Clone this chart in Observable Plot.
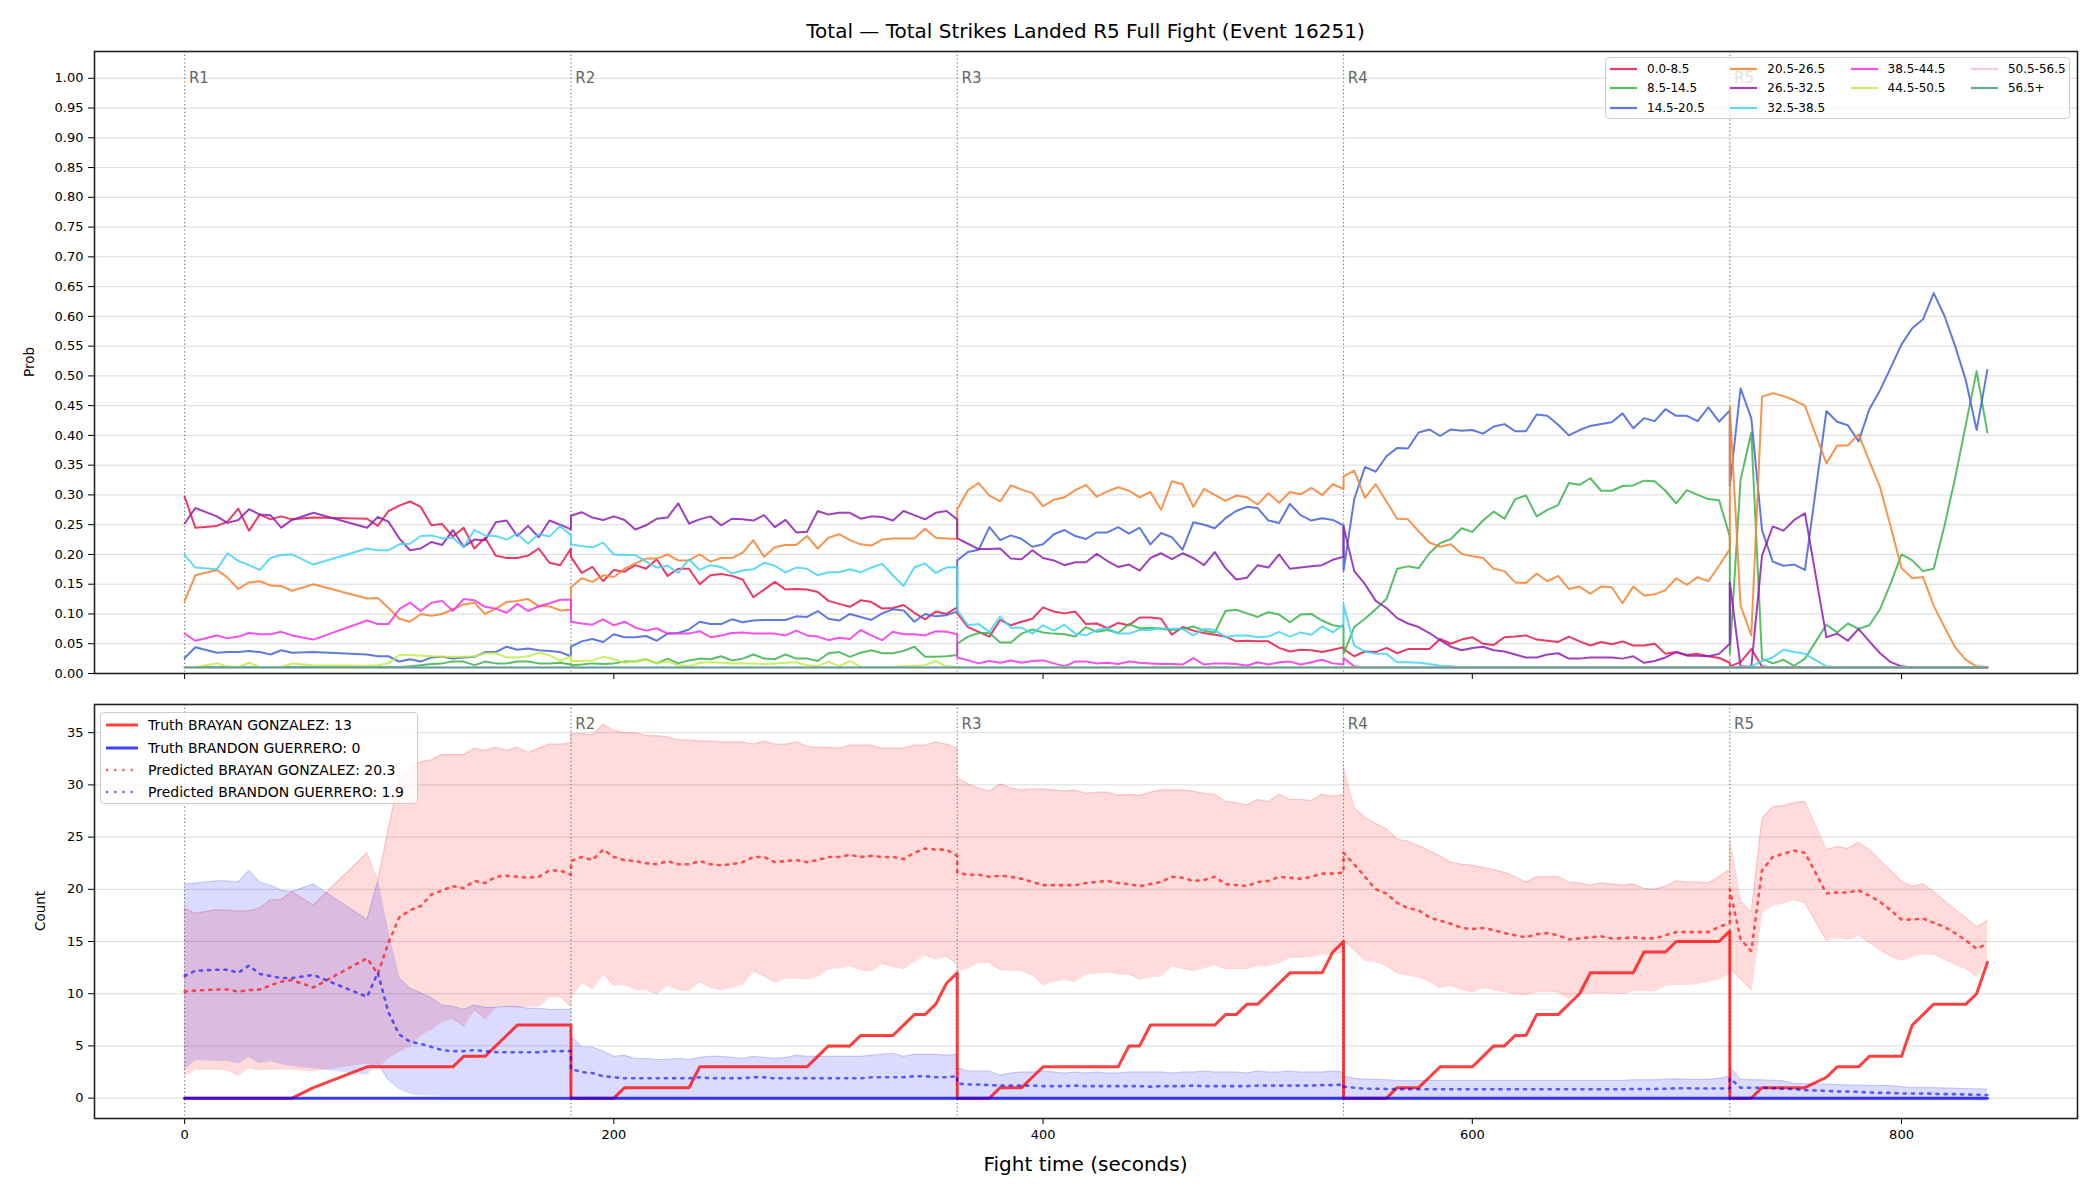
<!DOCTYPE html>
<html><head><meta charset="utf-8">
<script src="https://cdn.jsdelivr.net/npm/d3@7"></script>
<script src="https://cdn.jsdelivr.net/npm/@observablehq/plot@0.6"></script>
<style>
body{margin:0;background:#fff;font-family:"DejaVu Sans",sans-serif;}
#root{position:relative;width:2100px;height:1200px;overflow:hidden;background:#fff;}
.abs{position:absolute;}
.lg{position:absolute;border:1px solid #cccccc;border-radius:4px;background:rgba(255,255,255,0.8);box-sizing:border-box;}
.it{position:absolute;white-space:nowrap;color:#000;}
.it svg{position:absolute;left:0;top:0;}
.it span{position:absolute;top:0;}
</style></head><body><div id="root"></div>
<script>
// ---------------- DATA ----------------
const titleText = "Total \u2014 Total Strikes Landed R5 Full Fight (Event 16251)";
const xLabel = "Fight time (seconds)";
const roundStarts = [0, 180, 360, 540, 720];
const roundLabels = ["R1", "R2", "R3", "R4", "R5"];
const xTicks = [0, 200, 400, 600, 800];
const yTicksTop = [0,0.05,0.1,0.15,0.2,0.25,0.3,0.35,0.4,0.45,0.5,0.55,0.6,0.65,0.7,0.75,0.8,0.85,0.9,0.95,1.0];
const yTicksBottom = [0,5,10,15,20,25,30,35];

const tR1 = [0,5,15,20,25,30,35,40,45,50,60,85,90,95,100,105,110,115,120,125,130,135,140,145,150,155,160,165,170,175,180];
const tR2 = [180,185,190,195,200,205,210,215,220,225,230,235,240,245,250,255,260,265,270,275,280,285,290,295,300,305,310,315,320,325,330,335,340,345,350,355,360];
const tR3 = [360,365,370,375,380,385,390,395,400,405,410,415,420,425,430,435,440,445,450,455,460,465,470,475,480,485,490,495,500,505,510,515,520,525,530,535,540];
const tR4 = [540,545,550,555,560,565,570,575,580,585,590,595,600,605,610,615,620,625,630,635,640,645,650,655,660,665,670,675,680,685,690,695,700,705,710,715,720];
const tR5 = [720,725,730,735,740,745,750,755,765,770,775,780,785,790,795,800,805,810,815,820,825,830,835,840];

const binLabels = ["0.0-8.5","8.5-14.5","14.5-20.5","20.5-26.5","26.5-32.5","32.5-38.5","38.5-44.5","44.5-50.5","50.5-56.5","56.5+"];
const binColors = ["#e6194b","#3cb44b","#4363d8","#f58231","#911eb4","#42d4f4","#f032e6","#bfef45","#fabed4","#469990"];

const p0 = [
0.297,0.245,0.248,0.255,0.277,0.240,0.267,0.259,0.264,0.259,0.262,0.260,0.248,0.273,0.282,0.289,0.280,0.249,0.251,0.230,0.245,0.210,0.228,0.198,0.194,0.194,0.198,0.210,0.186,0.182,0.210,
0.196,0.169,0.179,0.155,0.174,0.171,0.182,0.176,0.192,0.164,0.176,0.176,0.150,0.165,0.167,0.164,0.158,0.128,0.141,0.154,0.141,0.142,0.141,0.137,0.122,0.117,0.112,0.123,0.120,0.109,0.110,0.115,0.102,0.091,0.104,0.100,0.111,
0.101,0.078,0.070,0.062,0.090,0.081,0.087,0.092,0.111,0.104,0.101,0.104,0.083,0.084,0.076,0.085,0.081,0.094,0.094,0.092,0.065,0.078,0.072,0.068,0.065,0.062,0.054,0.055,0.054,0.054,0.043,0.037,0.040,0.039,0.036,0.040,0.044,
0.041,0.029,0.037,0.036,0.043,0.034,0.041,0.041,0.041,0.058,0.050,0.057,0.061,0.050,0.048,0.061,0.062,0.064,0.057,0.055,0.053,0.062,0.054,0.047,0.053,0.049,0.054,0.047,0.047,0.050,0.033,0.036,0.031,0.033,0.029,0.026,0.018,
0.012,0.019,0.041,0.012,0.010,0.010,0.010,0.010,0.010,0.010,0.010,0.010,0.010,0.010,0.010,0.010,0.010,0.010,0.010,0.010,0.010,0.010,0.010,0.010];
const p1 = [
0.011,0.011,0.011,0.011,0.011,0.011,0.011,0.011,0.011,0.011,0.011,0.011,0.011,0.011,0.011,0.012,0.014,0.016,0.017,0.020,0.020,0.014,0.020,0.017,0.017,0.020,0.020,0.017,0.017,0.018,0.015,
0.014,0.015,0.017,0.016,0.017,0.020,0.020,0.024,0.017,0.025,0.017,0.022,0.025,0.024,0.029,0.022,0.025,0.032,0.025,0.024,0.032,0.025,0.025,0.021,0.034,0.036,0.028,0.035,0.039,0.034,0.034,0.038,0.045,0.028,0.028,0.029,0.031,
0.050,0.062,0.068,0.068,0.052,0.052,0.067,0.074,0.069,0.067,0.066,0.062,0.078,0.070,0.073,0.068,0.083,0.076,0.077,0.075,0.073,0.075,0.079,0.072,0.069,0.105,0.107,0.101,0.095,0.103,0.099,0.086,0.099,0.100,0.089,0.081,0.078,
0.033,0.078,0.092,0.108,0.125,0.176,0.180,0.177,0.202,0.219,0.226,0.244,0.238,0.257,0.272,0.260,0.293,0.299,0.264,0.275,0.283,0.320,0.317,0.328,0.307,0.307,0.315,0.316,0.324,0.323,0.307,0.286,0.308,0.300,0.293,0.291,0.230,
0.033,0.325,0.405,0.025,0.017,0.023,0.013,0.025,0.082,0.069,0.084,0.075,0.081,0.108,0.152,0.200,0.190,0.172,0.176,0.248,0.329,0.419,0.508,0.405];
const p2 = [
0.026,0.044,0.035,0.036,0.036,0.038,0.036,0.032,0.039,0.035,0.036,0.032,0.029,0.029,0.020,0.024,0.020,0.027,0.028,0.025,0.027,0.028,0.036,0.036,0.045,0.040,0.042,0.039,0.038,0.036,0.029,
0.045,0.054,0.058,0.053,0.066,0.061,0.061,0.063,0.055,0.067,0.068,0.074,0.087,0.083,0.083,0.091,0.086,0.089,0.090,0.090,0.090,0.096,0.095,0.105,0.092,0.089,0.100,0.095,0.090,0.101,0.108,0.106,0.087,0.100,0.096,0.098,0.104,
0.190,0.204,0.208,0.246,0.224,0.232,0.226,0.213,0.217,0.234,0.241,0.231,0.226,0.237,0.237,0.246,0.235,0.245,0.217,0.236,0.229,0.208,0.254,0.250,0.244,0.261,0.273,0.280,0.278,0.257,0.253,0.285,0.266,0.257,0.261,0.258,0.249,
0.173,0.293,0.347,0.339,0.365,0.379,0.378,0.405,0.410,0.399,0.410,0.408,0.409,0.403,0.415,0.419,0.407,0.407,0.435,0.433,0.418,0.400,0.409,0.416,0.419,0.422,0.437,0.412,0.429,0.424,0.444,0.433,0.433,0.424,0.447,0.423,0.442,
0.315,0.479,0.429,0.241,0.188,0.181,0.183,0.174,0.441,0.423,0.417,0.390,0.444,0.476,0.514,0.553,0.580,0.595,0.639,0.601,0.550,0.492,0.409,0.510];
const p3 = [
0.122,0.165,0.174,0.161,0.142,0.153,0.155,0.148,0.147,0.139,0.150,0.126,0.127,0.110,0.092,0.087,0.100,0.097,0.100,0.108,0.116,0.119,0.100,0.109,0.120,0.122,0.125,0.113,0.113,0.106,0.107,
0.145,0.160,0.154,0.165,0.162,0.176,0.185,0.193,0.193,0.200,0.190,0.190,0.200,0.188,0.194,0.194,0.203,0.224,0.196,0.212,0.216,0.216,0.231,0.210,0.228,0.234,0.224,0.217,0.215,0.225,0.227,0.227,0.227,0.243,0.228,0.227,0.226,
0.276,0.308,0.320,0.299,0.289,0.316,0.309,0.303,0.281,0.292,0.296,0.308,0.317,0.297,0.306,0.313,0.307,0.296,0.305,0.275,0.323,0.318,0.280,0.310,0.300,0.290,0.299,0.296,0.284,0.303,0.287,0.305,0.301,0.312,0.300,0.318,0.310,
0.331,0.341,0.295,0.318,0.289,0.260,0.259,0.239,0.220,0.213,0.217,0.201,0.197,0.194,0.176,0.172,0.153,0.152,0.168,0.155,0.164,0.142,0.146,0.134,0.146,0.145,0.118,0.146,0.131,0.133,0.140,0.160,0.149,0.162,0.155,0.181,0.209,
0.448,0.114,0.064,0.465,0.471,0.466,0.459,0.450,0.353,0.383,0.383,0.402,0.357,0.313,0.246,0.177,0.160,0.162,0.114,0.078,0.044,0.023,0.012,0.011];
const p4 = [
0.252,0.278,0.264,0.253,0.258,0.276,0.267,0.266,0.245,0.258,0.270,0.245,0.263,0.255,0.227,0.207,0.210,0.221,0.216,0.241,0.213,0.225,0.224,0.254,0.257,0.231,0.248,0.229,0.257,0.250,0.242,
0.265,0.271,0.262,0.258,0.264,0.258,0.242,0.249,0.260,0.262,0.286,0.252,0.259,0.264,0.249,0.260,0.259,0.257,0.266,0.246,0.258,0.237,0.238,0.273,0.267,0.270,0.270,0.260,0.264,0.263,0.257,0.273,0.266,0.259,0.270,0.273,0.259,
0.227,0.218,0.209,0.209,0.210,0.193,0.192,0.207,0.194,0.190,0.182,0.187,0.187,0.201,0.189,0.179,0.183,0.173,0.194,0.202,0.192,0.202,0.194,0.182,0.204,0.177,0.158,0.161,0.182,0.178,0.200,0.176,0.178,0.180,0.182,0.191,0.196,
0.247,0.172,0.150,0.122,0.110,0.093,0.084,0.078,0.068,0.056,0.045,0.039,0.043,0.045,0.039,0.037,0.032,0.027,0.027,0.032,0.034,0.025,0.025,0.027,0.027,0.027,0.025,0.029,0.018,0.021,0.027,0.036,0.030,0.030,0.029,0.033,0.050,
0.153,0.012,0.011,0.198,0.247,0.240,0.258,0.269,0.061,0.067,0.055,0.075,0.054,0.034,0.019,0.012,0.010,0.010,0.010,0.010,0.010,0.010,0.010,0.010];
const p5 = [
0.199,0.178,0.175,0.202,0.189,0.182,0.174,0.194,0.199,0.200,0.183,0.210,0.207,0.207,0.217,0.218,0.231,0.232,0.227,0.228,0.212,0.241,0.232,0.231,0.225,0.235,0.218,0.234,0.230,0.248,0.232,
0.217,0.214,0.212,0.220,0.200,0.199,0.199,0.188,0.178,0.181,0.169,0.192,0.174,0.182,0.179,0.168,0.173,0.175,0.186,0.181,0.170,0.178,0.176,0.165,0.170,0.170,0.175,0.170,0.178,0.184,0.165,0.147,0.178,0.185,0.169,0.178,0.179,
0.106,0.081,0.083,0.070,0.096,0.077,0.077,0.067,0.081,0.072,0.082,0.067,0.064,0.073,0.076,0.067,0.067,0.073,0.073,0.076,0.075,0.075,0.064,0.075,0.073,0.061,0.064,0.064,0.061,0.062,0.070,0.062,0.069,0.065,0.079,0.069,0.083,
0.116,0.047,0.037,0.033,0.033,0.019,0.019,0.018,0.016,0.013,0.012,0.010,0.010,0.010,0.010,0.010,0.010,0.010,0.010,0.010,0.010,0.010,0.010,0.010,0.010,0.010,0.010,0.010,0.010,0.010,0.010,0.010,0.010,0.010,0.010,0.010,0.010,
0.010,0.010,0.012,0.021,0.027,0.040,0.036,0.033,0.012,0.010,0.010,0.010,0.010,0.010,0.010,0.010,0.010,0.010,0.010,0.010,0.010,0.010,0.010,0.010];
const p6 = [
0.067,0.055,0.064,0.059,0.062,0.068,0.066,0.066,0.070,0.064,0.057,0.089,0.083,0.083,0.108,0.119,0.105,0.119,0.122,0.105,0.125,0.123,0.112,0.109,0.102,0.117,0.105,0.113,0.118,0.124,0.124,
0.087,0.084,0.082,0.091,0.081,0.087,0.077,0.072,0.076,0.067,0.067,0.067,0.071,0.061,0.064,0.068,0.069,0.067,0.067,0.067,0.064,0.072,0.064,0.062,0.056,0.060,0.058,0.073,0.064,0.056,0.070,0.066,0.066,0.064,0.071,0.070,0.066,
0.027,0.022,0.017,0.021,0.018,0.022,0.018,0.021,0.022,0.017,0.012,0.020,0.020,0.017,0.018,0.016,0.020,0.018,0.017,0.016,0.016,0.015,0.026,0.015,0.017,0.017,0.016,0.013,0.019,0.015,0.019,0.020,0.015,0.019,0.023,0.017,0.015,
0.026,0.012,0.010,0.010,0.010,0.010,0.010,0.010,0.010,0.010,0.010,0.010,0.010,0.010,0.010,0.010,0.010,0.010,0.010,0.010,0.010,0.010,0.010,0.010,0.010,0.010,0.010,0.010,0.010,0.010,0.010,0.010,0.010,0.010,0.010,0.010,0.010,
0.010,0.010,0.010,0.010,0.010,0.010,0.010,0.010,0.010,0.010,0.010,0.010,0.010,0.010,0.010,0.010,0.010,0.010,0.010,0.010,0.010,0.010,0.010,0.010];
const p7 = [
0.011,0.011,0.017,0.012,0.011,0.018,0.011,0.011,0.011,0.017,0.014,0.013,0.014,0.017,0.031,0.031,0.030,0.029,0.028,0.028,0.028,0.029,0.034,0.034,0.027,0.027,0.029,0.035,0.031,0.021,0.029,
0.021,0.021,0.022,0.028,0.024,0.018,0.020,0.024,0.017,0.020,0.014,0.012,0.018,0.019,0.018,0.017,0.017,0.017,0.016,0.017,0.018,0.019,0.014,0.012,0.020,0.012,0.021,0.011,0.011,0.011,0.011,0.012,0.013,0.014,0.021,0.012,0.011,
0.010,0.010,0.010,0.010,0.010,0.010,0.010,0.010,0.010,0.010,0.010,0.010,0.010,0.010,0.010,0.010,0.010,0.010,0.010,0.010,0.010,0.010,0.010,0.010,0.010,0.010,0.010,0.010,0.010,0.010,0.010,0.010,0.010,0.010,0.010,0.010,0.010,
0.010,0.010,0.010,0.010,0.010,0.010,0.010,0.010,0.010,0.010,0.010,0.010,0.010,0.010,0.010,0.010,0.010,0.010,0.010,0.010,0.010,0.010,0.010,0.010,0.010,0.010,0.010,0.010,0.010,0.010,0.010,0.010,0.010,0.010,0.010,0.010,0.010,
0.010,0.010,0.010,0.010,0.010,0.010,0.010,0.010,0.010,0.010,0.010,0.010,0.010,0.010,0.010,0.010,0.010,0.010,0.010,0.010,0.010,0.010,0.010,0.010];
const flatTimes = [0, 840];
const p8 = [0.010, 0.010];
const p9 = [0.010, 0.010];

// bottom panel
const fighterA = "BRAYAN GONZALEZ";
const fighterB = "BRANDON GUERRERO";
const finalTruth = [13, 0];
const finalPred = [20.3, 1.9];
const truthA = [
0,0,0,0,0,0,0,0,0,0,1,3,3,3,3,3,3,3,3,3,4,4,4,5,6,7,7,7,7,7,7,
0,0,0,0,0,1,1,1,1,1,1,1,3,3,3,3,3,3,3,3,3,3,3,4,5,5,5,6,6,6,6,7,8,8,9,11,12,
0,0,0,0,1,1,1,2,3,3,3,3,3,3,3,3,5,5,7,7,7,7,7,7,7,8,8,9,9,10,11,12,12,12,12,14,15,
0,0,0,0,0,1,1,1,2,3,3,3,3,4,5,5,6,6,8,8,8,9,10,12,12,12,12,12,14,14,14,15,15,15,15,15,16,
0,0,0,1,1,1,1,1,2,3,3,3,4,4,4,4,7,8,9,9,9,9,10,13];
const truthB = [0, 0];
const predA = [
10.2,10.3,10.4,10.4,10.2,10.35,10.4,10.8,11.15,11.3,10.6,13.4,11.9,14.9,17.3,18.0,18.4,19.5,19.9,20.3,20.1,20.8,20.6,21.2,21.3,21.2,21.1,21.2,21.8,21.8,21.4,
22.7,23.1,22.8,23.8,23.1,22.8,22.7,22.5,22.4,22.7,22.4,22.4,22.7,22.4,22.3,22.4,22.6,23.1,23.1,22.6,22.7,22.8,22.6,22.8,23.1,23.1,23.3,23.1,23.2,23.1,23.1,22.9,23.5,23.9,23.8,23.8,23.2,
21.6,21.4,21.4,21.2,21.3,21.2,21.0,20.7,20.4,20.4,20.4,20.4,20.6,20.7,20.8,20.6,20.5,20.3,20.5,20.7,21.2,21.1,20.8,20.9,21.2,20.5,20.4,20.3,20.7,20.8,21.2,21.1,21.0,21.2,21.5,21.5,21.6,
23.5,22.4,21.2,20.0,19.6,18.7,18.2,18.0,17.3,17.0,16.7,16.3,16.2,16.3,16.1,15.8,15.6,15.4,15.7,15.8,15.6,15.2,15.3,15.4,15.5,15.3,15.3,15.4,15.3,15.3,15.6,15.9,15.9,15.9,15.9,16.4,16.8,
20.0,15.2,14.1,21.8,23.1,23.4,23.7,23.5,19.6,19.7,19.7,19.9,19.4,18.8,18.0,17.1,17.1,17.2,16.8,16.4,15.8,15.1,14.3,14.8];
const hiA = [
18.2,17.7,18.05,18.0,17.9,17.95,18.2,19.0,19.0,19.8,18.5,23.5,20.8,25.9,30.6,31.7,32.2,32.4,32.9,32.9,32.9,33.5,33.3,33.6,33.3,33.6,33.1,33.5,33.9,33.9,34.0,
34.9,34.9,34.8,35.8,35.2,35.0,35.0,34.7,34.7,34.6,34.3,34.3,34.2,34.2,34.1,34.1,34.1,33.9,34.2,33.9,33.9,34.1,33.7,33.6,33.6,33.5,33.8,33.8,33.8,33.5,33.5,33.5,33.8,33.8,34.1,33.9,33.5,
30.7,30.1,29.7,29.4,30.1,29.7,29.5,29.6,29.6,29.5,29.4,29.5,29.2,29.3,29.3,29.0,29.1,29.0,29.3,29.5,29.5,29.5,29.4,29.2,29.1,28.4,28.3,28.1,28.6,28.4,29.1,28.6,28.6,28.5,29.1,28.9,29.1,
31.7,27.8,26.9,26.3,25.8,24.8,24.6,24.2,23.7,23.2,22.6,22.4,22.3,22.1,21.9,21.6,21.2,20.7,21.2,21.2,21.2,20.7,20.6,20.4,20.6,20.5,20.4,20.5,20.1,20.0,20.3,20.8,20.7,20.7,20.6,21.2,21.9,
24.7,18.9,17.8,26.8,27.9,28.0,28.3,28.4,23.8,24.1,23.9,24.5,23.8,22.8,21.8,20.8,20.3,20.5,19.8,18.9,18.1,17.3,16.4,17.0];
const loA = [
2.1,2.8,2.8,2.7,2.2,2.9,2.7,2.8,2.8,2.8,2.6,3.4,2.9,3.9,4.5,5.0,6.1,6.6,7.4,7.6,6.9,8.5,7.6,8.8,8.8,8.7,8.8,8.8,9.7,9.7,8.8,
9.6,11.1,10.5,11.9,10.8,10.9,10.4,10.4,10.0,10.8,10.4,10.3,11.2,10.6,10.4,10.6,10.9,12.2,11.7,11.1,11.5,11.5,11.4,11.7,12.4,12.5,12.7,12.3,12.2,12.9,12.6,12.4,13.1,13.7,13.3,13.6,12.8,
12.2,12.5,13.0,13.0,12.3,12.3,12.2,11.8,10.9,11.2,11.4,11.2,11.9,12.0,12.1,11.9,11.9,11.4,11.6,11.7,12.7,12.4,12.2,12.5,12.8,12.4,12.4,12.4,12.7,12.7,13.0,13.5,13.5,13.6,13.8,13.8,14.0,
15.1,14.2,13.2,13.1,12.7,12.0,11.8,11.6,11.2,10.6,10.8,10.4,10.2,10.6,10.4,10.2,10.0,9.9,10.2,10.2,10.2,9.6,10.0,10.1,10.1,10.1,10.0,10.3,10.3,10.3,10.8,10.9,10.9,11.0,11.2,11.4,12.0,
12.5,11.4,10.4,17.8,18.5,18.7,19.0,18.7,15.1,15.4,15.2,15.6,14.9,14.2,13.6,13.2,13.6,13.8,13.8,13.3,12.8,12.4,11.7,13.3];
const predB = [
11.7,12.2,12.3,12.3,12.0,12.7,11.9,11.7,11.5,11.5,11.8,9.7,12.0,8.2,6.1,5.4,5.2,4.9,4.6,4.5,4.5,4.6,4.5,4.4,4.4,4.4,4.4,4.4,4.5,4.5,4.5,
2.8,2.5,2.4,2.1,2.0,1.9,1.9,1.9,1.9,1.9,1.9,1.9,2.0,1.9,1.9,1.9,1.9,2.0,2.0,1.9,1.9,1.9,1.9,1.9,1.9,1.9,1.9,1.9,2.0,2.0,2.0,2.0,2.1,2.1,2.0,2.0,2.1,
1.4,1.3,1.3,1.25,1.2,1.2,1.2,1.2,1.15,1.15,1.15,1.2,1.15,1.15,1.15,1.15,1.15,1.15,1.1,1.15,1.15,1.15,1.2,1.15,1.15,1.15,1.15,1.15,1.2,1.2,1.2,1.2,1.2,1.2,1.25,1.25,1.3,
1.1,1.0,0.9,0.9,0.88,0.86,0.86,0.85,0.85,0.85,0.85,0.85,0.85,0.85,0.85,0.85,0.85,0.85,0.85,0.85,0.85,0.85,0.85,0.85,0.85,0.85,0.85,0.88,0.88,0.88,0.9,0.95,0.95,0.92,0.92,0.92,0.92,
1.9,1.0,1.0,1.0,0.95,0.9,0.86,0.77,0.7,0.64,0.64,0.6,0.54,0.5,0.5,0.45,0.45,0.45,0.42,0.38,0.38,0.35,0.32,0.3];
const hiB = [
20.5,20.6,20.8,20.8,20.7,21.8,20.7,20.4,19.9,19.8,20.5,17.1,20.8,15.7,11.5,10.5,10.1,9.6,8.9,8.8,8.5,8.9,8.7,8.7,8.8,8.8,8.6,8.6,8.5,8.5,8.5,
6.0,4.9,4.9,4.5,4.0,4.1,3.8,3.8,3.7,3.7,3.8,3.7,3.9,4.0,4.0,3.9,3.8,4.0,3.9,3.8,3.9,4.1,4.0,4.0,4.0,4.0,4.0,4.0,4.1,4.2,4.3,4.0,4.2,4.2,4.2,4.1,4.2,
2.9,2.6,2.6,2.6,2.2,2.4,2.5,2.5,2.6,2.5,2.4,2.5,2.4,2.5,2.4,2.4,2.5,2.5,2.5,2.5,2.4,2.5,2.5,2.6,2.5,2.5,2.5,2.4,2.6,2.5,2.5,2.6,2.5,2.5,2.5,2.6,2.5,
2.1,1.9,1.8,1.8,1.75,1.7,1.7,1.7,1.7,1.7,1.7,1.7,1.7,1.7,1.7,1.7,1.7,1.7,1.7,1.7,1.7,1.7,1.7,1.7,1.7,1.7,1.7,1.75,1.75,1.75,1.8,1.85,1.8,1.8,1.8,1.9,2.1,
3.0,1.8,1.75,1.75,1.7,1.66,1.4,1.4,1.34,1.3,1.25,1.25,1.22,1.2,1.2,1.1,1.0,1.0,1.0,0.96,0.95,0.9,0.88,0.86];
const loB = [
2.8,3.7,3.6,3.6,3.4,4.0,3.4,3.6,3.3,3.1,2.9,2.3,3.3,1.7,0.9,0.45,0.3,0.3,0.25,0.25,0.25,0.25,0.25,0.25,0.25,0.25,0.25,0.25,0.25,0.25,0.25,
-0.1,-0.15,-0.15,-0.15,-0.15,-0.15,-0.15,-0.15,-0.15,-0.15,-0.15,-0.15,-0.15,-0.15,-0.15,-0.15,-0.15,-0.15,-0.15,-0.15,-0.15,-0.15,-0.15,-0.15,-0.15,-0.15,-0.15,-0.15,-0.15,-0.15,-0.15,-0.15,-0.15,-0.15,-0.15,-0.15,-0.15,
-0.15,-0.15,-0.15,-0.15,-0.15,-0.15,-0.15,-0.15,-0.15,-0.15,-0.15,-0.15,-0.15,-0.15,-0.15,-0.15,-0.15,-0.15,-0.15,-0.15,-0.15,-0.15,-0.15,-0.15,-0.15,-0.15,-0.15,-0.15,-0.15,-0.15,-0.15,-0.15,-0.15,-0.15,-0.15,-0.15,-0.15,
-0.15,-0.15,-0.15,-0.15,-0.15,-0.15,-0.15,-0.15,-0.15,-0.15,-0.15,-0.15,-0.15,-0.15,-0.15,-0.15,-0.15,-0.15,-0.15,-0.15,-0.15,-0.15,-0.15,-0.15,-0.15,-0.15,-0.15,-0.15,-0.15,-0.15,-0.15,-0.15,-0.15,-0.15,-0.15,-0.15,-0.15,
-0.15,-0.15,-0.15,-0.15,-0.15,-0.15,-0.15,-0.15,-0.15,-0.15,-0.15,-0.15,-0.15,-0.15,-0.15,-0.15,-0.15,-0.15,-0.15,-0.15,-0.15,-0.15,-0.2,-0.25];

// ---------------- BUILD ----------------
const times = [...tR1, ...tR2, ...tR3, ...tR4, ...tR5];
const root = document.getElementById("root");
const FONT = "DejaVu Sans, sans-serif";
const X_DOMAIN = [-42, 882];
const TOP_Y = [0, 1.045];
const BOT_Y = [-1.95, 37.7];

function addDiv(html, style) {
  const d = document.createElement("div");
  d.className = "abs";
  d.innerHTML = html;
  Object.assign(d.style, style);
  root.appendChild(d);
  return d;
}

// top panel data
const binSeries = [p0, p1, p2, p3, p4, p5, p6, p7];
const topRows = [];
binSeries.forEach((vals, k) => vals.forEach((v, i) => topRows.push({t: times[i], v, bin: binLabels[k]})));
[p8, p9].forEach((vals, j) => vals.forEach((v, i) => topRows.push({t: flatTimes[i], v, bin: binLabels[8 + j]})));

const gridStyle = {stroke: "#b0b0b0", strokeOpacity: 0.45, strokeWidth: 1};
const ruleStyle = {stroke: "#555", strokeOpacity: 0.85, strokeWidth: 1.1, strokeDasharray: "1.2,2.6"};

const topLabelRows = roundLabels.map((l, i) => ({t: roundStarts[i] + 2, y: 1.0, label: l}));
const topPlot = Plot.plot({
  width: 2100, height: 669,
  marginLeft: 94, marginRight: 23, marginTop: 11, marginBottom: 36,
  style: {fontFamily: FONT, fontSize: "13px", color: "#000", background: "transparent"},
  x: {domain: X_DOMAIN},
  y: {domain: TOP_Y},
  color: {domain: binLabels, range: binColors},
  marks: [
    Plot.gridY(yTicksTop, gridStyle),
    Plot.ruleX(roundStarts, ruleStyle),
    Plot.line(topRows, {x: "t", y: "v", z: "bin", stroke: "bin", strokeWidth: 2, strokeOpacity: 0.85}),
    Plot.text(topLabelRows, {x: "t", y: "y", text: "label", textAnchor: "start", fill: "#666", fontSize: 15}),
    Plot.axisY({ticks: yTicksTop, tickFormat: d3.format(".2f"), tickSize: 6, tickPadding: 5, fontSize: 13, label: null}),
    Plot.axisX({ticks: xTicks, tickFormat: () => "", tickSize: 6, label: null}),
    Plot.frame({stroke: "#222", strokeWidth: 1.6})
  ]
});
topPlot.style.position = "absolute"; topPlot.style.left = "0px"; topPlot.style.top = "40px";
root.appendChild(topPlot);

// bottom panel (R1 label sits under the legend there, so only R2-R5 are drawn)
const rows = times.map((t, i) => ({t, truthA: truthA[i], predA: predA[i], hiA: hiA[i], loA: loA[i], predB: predB[i], hiB: hiB[i], loB: loB[i]}));
const flatRows = flatTimes.map((t, i) => ({t, truthB: truthB[i]}));
const botLabelRows = roundLabels.slice(1).map((l, i) => ({t: roundStarts[i + 1] + 2, y: BOT_Y[1] * 0.95, label: l}));
const dotted = "2.2,6";
const botPlot = Plot.plot({
  width: 2100, height: 510,
  marginLeft: 94, marginRight: 23, marginTop: 14, marginBottom: 82,
  style: {fontFamily: FONT, fontSize: "13px", color: "#000", background: "transparent"},
  x: {domain: X_DOMAIN},
  y: {domain: BOT_Y},
  marks: [
    Plot.gridY(yTicksBottom, gridStyle),
    Plot.areaY(rows, {x: "t", y1: "loA", y2: "hiA", fill: "red", fillOpacity: 0.14}),
    Plot.line(rows, {x: "t", y: "hiA", stroke: "red", strokeOpacity: 0.14, strokeWidth: 1.2}),
    Plot.line(rows, {x: "t", y: "loA", stroke: "red", strokeOpacity: 0.14, strokeWidth: 1.2}),
    Plot.areaY(rows, {x: "t", y1: "loB", y2: "hiB", fill: "blue", fillOpacity: 0.14}),
    Plot.line(rows, {x: "t", y: "hiB", stroke: "blue", strokeOpacity: 0.12, strokeWidth: 1.2}),
    Plot.line(rows, {x: "t", y: "loB", stroke: "blue", strokeOpacity: 0.12, strokeWidth: 1.2}),
    Plot.ruleX(roundStarts, ruleStyle),
    Plot.line(rows, {x: "t", y: "truthA", stroke: "red", strokeOpacity: 0.75, strokeWidth: 3}),
    Plot.line(flatRows, {x: "t", y: "truthB", stroke: "blue", strokeOpacity: 0.75, strokeWidth: 3}),
    Plot.line(rows, {x: "t", y: "predA", stroke: "red", strokeOpacity: 0.65, strokeWidth: 2.6, strokeDasharray: dotted}),
    Plot.line(rows, {x: "t", y: "predB", stroke: "blue", strokeOpacity: 0.6, strokeWidth: 2.6, strokeDasharray: dotted}),
    Plot.text(botLabelRows, {x: "t", y: "y", text: "label", textAnchor: "start", fill: "#666", fontSize: 15}),
    Plot.axisY({ticks: yTicksBottom, tickSize: 6, tickPadding: 5, fontSize: 13, label: null}),
    Plot.axisX({ticks: xTicks, tickSize: 6, tickPadding: 5, fontSize: 13, label: null}),
    Plot.frame({stroke: "#222", strokeWidth: 1.6})
  ]
});
botPlot.style.position = "absolute"; botPlot.style.left = "0px"; botPlot.style.top = "690px";
root.appendChild(botPlot);

// titles & axis labels
addDiv(titleText, {left: "94px", width: "1983px", top: "18px", textAlign: "center", fontSize: "20px", lineHeight: "26px", color: "#000"});
addDiv(xLabel, {left: "94px", width: "1983px", top: "1151px", textAlign: "center", fontSize: "20px", lineHeight: "26px", color: "#000"});
addDiv("Prob", {left: "29px", top: "362px", fontSize: "13.5px", transform: "translate(-50%,-50%) rotate(-90deg)", whiteSpace: "nowrap", color: "#000"});
addDiv("Count", {left: "40px", top: "911px", fontSize: "13.5px", transform: "translate(-50%,-50%) rotate(-90deg)", whiteSpace: "nowrap", color: "#000"});

// top legend
const lgTop = document.createElement("div");
lgTop.className = "lg";
Object.assign(lgTop.style, {left: "1605px", top: "57px", width: "465px", height: "62px"});
root.appendChild(lgTop);
const colOf = [0,0,0,1,1,1,2,2,3,3], rowOf = [0,1,2,0,1,2,0,1,0,1];
const rowY = [11, 30, 50];
binLabels.forEach((lab, k) => {
  const it = document.createElement("div");
  it.className = "it";
  Object.assign(it.style, {left: (4 + colOf[k] * 120.3) + "px", top: (rowY[rowOf[k]] - 8) + "px", height: "16px", width: "118px", fontSize: "12px", lineHeight: "16px"});
  it.innerHTML = `<svg width="28" height="16"><line x1="0" x2="27" y1="8" y2="8" stroke="${binColors[k]}" stroke-opacity="0.85" stroke-width="2.2"/></svg><span style="left:37px">${lab}</span>`;
  lgTop.appendChild(it);
});

// bottom legend
const lgBot = document.createElement("div");
lgBot.className = "lg";
Object.assign(lgBot.style, {left: "100px", top: "712px", width: "318px", height: "92px"});
root.appendChild(lgBot);
const botItems = [
  {text: `Truth ${fighterA}: ${finalTruth[0]}`, color: "red", op: 0.75, dash: null},
  {text: `Truth ${fighterB}: ${finalTruth[1]}`, color: "blue", op: 0.75, dash: null},
  {text: `Predicted ${fighterA}: ${finalPred[0]}`, color: "red", op: 0.65, dash: dotted},
  {text: `Predicted ${fighterB}: ${finalPred[1]}`, color: "blue", op: 0.6, dash: dotted}
];
const botRowY = [12, 35, 57, 79];
botItems.forEach((d, k) => {
  const it = document.createElement("div");
  it.className = "it";
  Object.assign(it.style, {left: "5px", top: (botRowY[k] - 10) + "px", height: "20px", width: "310px", fontSize: "14px", lineHeight: "20px"});
  const w = d.dash ? 2.6 : 3;
  it.innerHTML = `<svg width="34" height="20"><line x1="0" x2="32" y1="10" y2="10" stroke="${d.color}" stroke-opacity="${d.op}" stroke-width="${w}" ${d.dash ? `stroke-dasharray="${d.dash}"` : ""}/></svg><span style="left:42px">${d.text}</span>`;
  lgBot.appendChild(it);
});
</script></body></html>
